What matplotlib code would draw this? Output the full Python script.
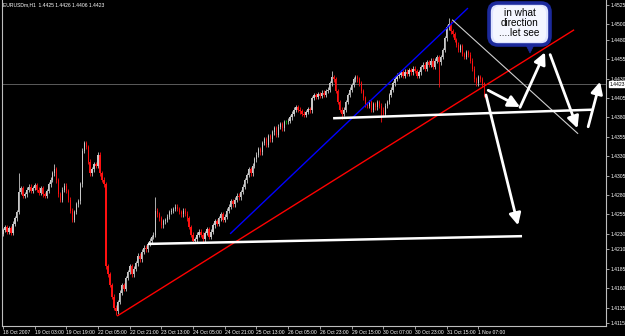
import numpy as np
import matplotlib
matplotlib.use('Agg')
import matplotlib.pyplot as plt
from matplotlib.patches import FancyBboxPatch, Polygon
from matplotlib.transforms import blended_transform_factory

plt.rcParams['font.family'] = ['Liberation Sans', 'DejaVu Sans']

# ---------------- data (EURUSDm H1, prices as pips above 1.4000) ----------------
symbol_info = "EURUSDm,H1  1.4425 1.4426 1.4406 1.4423"
close_pips = [
    235, 239, 233, 237, 231, 243, 250, 258, 284, 289,
    279, 281, 287, 291, 285, 289, 293, 287, 283, 289,
    281, 279, 285, 294, 300, 308, 313, 299, 281, 274,
    287, 292, 285, 274, 260, 248, 258, 268, 272, 294,
    337, 347, 342, 323, 308, 313, 320, 318, 332, 308,
    300, 294, 188, 178, 164, 149, 135, 130, 142, 154,
    164, 159, 173, 181, 188, 178, 185, 192, 202, 197,
    207, 212, 210, 217, 221, 226, 229, 260, 255, 250,
    241, 246, 248, 252, 258, 260, 262, 265, 262, 258,
    255, 260, 256, 250, 239, 229, 221, 223, 229, 233,
    229, 223, 231, 236, 226, 233, 241, 246, 243, 250,
    255, 248, 252, 260, 265, 272, 268, 274, 279, 277,
    284, 291, 299, 306, 313, 308, 318, 326, 332, 339,
    335, 347, 352, 345, 356, 352, 361, 366, 358, 368,
    371, 366, 374, 374, 376, 380, 385, 390, 393, 390,
    388, 385, 383, 387, 391, 389, 405, 409, 407, 410,
    408, 412, 409, 414, 416, 424, 432, 429, 414, 400,
    390, 385, 390, 400, 409, 416, 422, 429, 432, 429,
    424, 414, 405, 397, 395, 400, 390, 397, 393, 400,
    395, 390, 385, 395, 400, 409, 416, 424, 430, 434,
    435, 438, 434, 439, 436, 441, 438, 443, 440, 434,
    438, 445, 448, 443, 451, 448, 453, 445, 453, 458,
    451, 458, 467, 482, 496, 501, 491, 487, 480, 474,
    467, 472, 462, 458, 464, 461, 453, 443, 429, 424,
    432, 429, 422, 423,
]
first_open_pips = 230
last_bar_pips = {"open": 425, "high": 426, "low": 406}
wick_pips = 3
high_spikes = {8: 308, 26: 320, 42: 350, 77: 277, 166: 440, 225: 508}
low_spikes = {57: 126, 171: 378, 191: 374, 220: 419}

x_labels = ["18 Oct 2007", "19 Oct 03:00", "19 Oct 19:00", "22 Oct 05:00",
            "22 Oct 21:00", "23 Oct 13:00", "24 Oct 05:00", "24 Oct 21:00",
            "25 Oct 13:00", "26 Oct 05:00", "26 Oct 23:00", "29 Oct 15:00",
            "30 Oct 07:00", "30 Oct 23:00", "31 Oct 15:00", "1 Nov 07:00"]
bars_per_label = 16
y_ticks = [1.4525, 1.4500, 1.4480, 1.4455, 1.4430, 1.4405, 1.4380, 1.4355,
           1.4330, 1.4305, 1.4280, 1.4255, 1.4230, 1.4210, 1.4185, 1.4160,
           1.4135, 1.4115]
current_price = 1.4423

# hand drawn objects (bar index, price)
trend_lines = [
    (57.6, 1.4124, 288.4, 1.4493, '#ff0000', 1.0),   # red support trend
    (114.7, 1.4230, 234.8, 1.4521, '#0000ff', 1.0),  # blue channel
    (226.8, 1.4506, 290.4, 1.4359, '#cfcfcf', 0.8),  # descending line
    (166.7, 1.4379, 297.5, 1.4390, '#ffffff', 1.8),  # upper support
    (73.2, 1.4217, 262.1, 1.4227, '#ffffff', 1.8),   # lower support
]
arrows = [
    (245.0, 1.4415, 261.1, 1.43935),
    (243.9, 1.4409, 260.1, 1.4241),
    (261.1, 1.4393, 273.7, 1.4464),
    (276.3, 1.4461, 290.1, 1.4366),
    (295.5, 1.4368, 301.5, 1.4426),
]
bubble_text = "in what\ndirection\n....let see"

# ---------------- build OHLC ----------------
closes = 1.4 + np.array(close_pips) / 1e4
opens = np.empty_like(closes)
opens[0] = 1.4 + first_open_pips / 1e4
opens[1:] = closes[:-1]
opens[-1] = 1.4 + last_bar_pips["open"] / 1e4
highs = np.maximum(opens, closes) + wick_pips / 1e4
lows = np.minimum(opens, closes) - wick_pips / 1e4
for k, v in high_spikes.items():
    highs[k] = 1.4 + v / 1e4
for k, v in low_spikes.items():
    lows[k] = 1.4 + v / 1e4
highs[-1] = 1.4 + last_bar_pips["high"] / 1e4
lows[-1] = 1.4 + last_bar_pips["low"] / 1e4
idx = np.arange(len(closes))

# ---------------- figure ----------------
W, H = 625, 336
fig = plt.figure(figsize=(W / 100, H / 100), dpi=100, facecolor='black')
ax = fig.add_axes([2 / W, (H - 326) / H, 604 / W, 326 / H], facecolor='black')
ax.set_xlim(-0.5, 304.5)
ax.set_ylim(1.41112, 1.45314)

up = closes > opens
down = closes < opens
flat = ~(up | down)
up_col, down_col, flat_col = '#c8c8c8', '#ff1010', '#00b000'
cols = np.where(up, up_col, np.where(down, down_col, flat_col))
ax.vlines(idx, lows, highs, colors=cols, linewidth=0.6, zorder=2)
body_h = np.where(flat, 0.00008, closes - opens)
ax.bar(idx, body_h, bottom=opens, width=0.65, color=cols, linewidth=0, zorder=3)

ax.axhline(current_price, color='#6a6a6a', lw=0.6, zorder=1)

for x0, y0, x1, y1, c, lw in trend_lines:
    ax.plot([x0, x1], [y0, y1], color=c, lw=lw, zorder=4, solid_capstyle='butt')

for x0, y0, x1, y1 in arrows:
    ax.annotate('', xy=(x1, y1), xytext=(x0, y0),
                arrowprops=dict(arrowstyle='-|>,head_length=0.7,head_width=0.35',
                                color='white', lw=2.0, shrinkA=0, shrinkB=0),
                zorder=5)

# axes styling
for s in ['left', 'right', 'bottom']:
    ax.spines[s].set_color('#bdbdbd')
    ax.spines[s].set_linewidth(0.8)
ax.spines['top'].set_visible(False)
ax.yaxis.tick_right()
ax.set_yticks(y_ticks)
ax.set_yticklabels([f"{v:.4f}" for v in y_ticks])
ax.set_xticks([i * bars_per_label for i in range(len(x_labels))])
ax.set_xticklabels(x_labels)
for lab in ax.get_xticklabels():
    lab.set_ha('left')
ax.tick_params(axis='both', colors='#bdbdbd', labelcolor='white', labelsize=3.6,
               length=2, width=0.6, pad=1.0)

# current price box
tr = blended_transform_factory(ax.transAxes, ax.transData)
ax.text(1.006, current_price, f"{current_price:.4f}", transform=tr, fontsize=3.6,
        color='black', va='center', ha='left',
        bbox=dict(boxstyle='square,pad=0.12', fc='white', ec='white'), clip_on=False)

# overlay in pixel coordinates for header and speech bubble
ov = fig.add_axes([0, 0, 1, 1], facecolor='none')
ov.set_xlim(0, W)
ov.set_ylim(H, 0)
ov.axis('off')
ov.text(3, 5, symbol_info, color='white', fontsize=3.6, va='center', ha='left')

bub = FancyBboxPatch((489, 3), 61, 42, boxstyle='round,pad=0,rounding_size=9',
                     fc='#dfe4ff', ec='#1c2a9c', lw=2.6, zorder=6)
ov.add_patch(bub)
inner = FancyBboxPatch((493, 6), 53, 36, boxstyle='round,pad=0,rounding_size=7',
                       fc='#f4f6ff', ec='none', zorder=6)
ov.add_patch(inner)
ov.add_patch(Polygon([[525, 43], [535, 43], [530, 53]], closed=True,
                     fc='#1c2a9c', ec='#1c2a9c', lw=0.5, zorder=5))
ov.text(519.5, 23, bubble_text, ha='center', va='center', fontsize=7.2,
        color='black', linespacing=1.0, zorder=7)

fig.savefig('out.png', dpi=100, facecolor='black')
